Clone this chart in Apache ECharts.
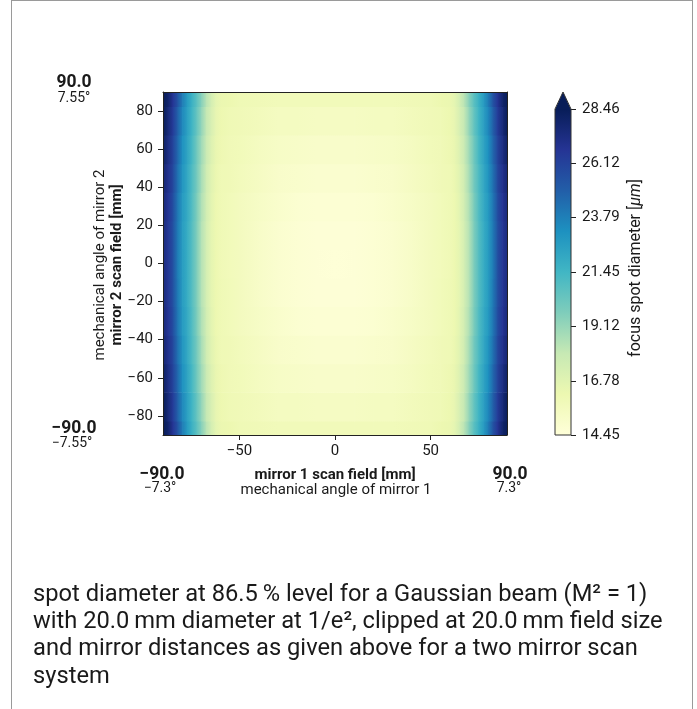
<!DOCTYPE html>
<html>
<head>
<meta charset="utf-8">
<script src="https://cdn.jsdelivr.net/npm/echarts@6/dist/echarts.min.js"></script>
<style>
html,body{margin:0;padding:0;background:#fff;}
#frame{position:absolute;left:11px;top:0;width:682px;height:720px;border:1px solid #9a9a9a;border-bottom:none;box-sizing:border-box;}
#main{position:absolute;left:0;top:0;width:697px;height:709px;}
</style>
</head>
<body>
<div id="frame"></div>
<div id="main"></div>
<script>
// mirror 1 scan field positions [mm] (columns)
const xs = [-90,-87.5,-85,-82.5,-80,-77.5,-75,-72.5,-70,-67.5,-65,-62.5,-60,-55,-50,-40,-30,-20,-10,0,10,20,30,40,50,55,60,62.5,65,67.5,70,72.5,75,77.5,80,82.5,85,87.5,90];
// mirror 2 scan field positions [mm] (rows)
const ys = [-90,-75,-60,-45,-30,-15,0,15,30,45,60,75,90];

// focus spot diameter [µm], one row per y position
const row_m90 = [29.0,27.9,26.7,25.4,23.9,22.7,21.7,20.7,19.5,18.3,17.4,16.6,16.3,16.2,16.0,15.9,15.8,15.8,15.8,15.8,15.8,15.8,15.8,15.9,16.0,16.2,16.3,16.6,17.4,18.3,19.5,20.7,21.7,22.7,23.9,25.4,26.7,27.9,29.0];
const row_m75 = [28.5,27.5,26.4,24.9,23.5,22.5,21.5,20.4,19.2,18.0,17.2,16.5,16.2,16.0,15.9,15.7,15.5,15.5,15.4,15.4,15.4,15.5,15.5,15.7,15.9,16.0,16.2,16.5,17.2,18.0,19.2,20.4,21.5,22.5,23.5,24.9,26.4,27.5,28.5];
const row_m60 = [28.1,27.2,26.1,24.6,23.2,22.3,21.3,20.1,18.9,17.8,17.0,16.4,16.1,15.9,15.8,15.5,15.3,15.2,15.1,15.1,15.1,15.2,15.3,15.5,15.8,15.9,16.1,16.4,17.0,17.8,18.9,20.1,21.3,22.3,23.2,24.6,26.1,27.2,28.1];
const row_m45 = [27.7,26.9,25.9,24.3,23.0,22.1,21.1,20.0,18.7,17.6,16.8,16.3,16.0,15.9,15.7,15.4,15.1,15.0,14.9,14.9,14.9,15.0,15.1,15.4,15.7,15.9,16.0,16.3,16.8,17.6,18.7,20.0,21.1,22.1,23.0,24.3,25.9,26.9,27.7];
const row_m30 = [27.5,26.7,25.7,24.1,22.8,22.0,21.0,19.8,18.5,17.5,16.7,16.2,16.0,15.8,15.6,15.3,15.0,14.8,14.7,14.7,14.7,14.8,15.0,15.3,15.6,15.8,16.0,16.2,16.7,17.5,18.5,19.8,21.0,22.0,22.8,24.1,25.7,26.7,27.5];
const row_m15 = [27.4,26.6,25.6,24.0,22.7,21.9,20.9,19.7,18.4,17.4,16.6,16.2,16.0,15.8,15.6,15.2,14.9,14.7,14.6,14.6,14.6,14.7,14.9,15.2,15.6,15.8,16.0,16.2,16.6,17.4,18.4,19.7,20.9,21.9,22.7,24.0,25.6,26.6,27.4];
const row_0   = [27.3,26.6,25.6,23.9,22.7,21.9,20.9,19.7,18.4,17.4,16.6,16.2,15.95,15.75,15.6,15.2,14.9,14.7,14.6,14.55,14.6,14.7,14.9,15.2,15.6,15.75,15.95,16.2,16.6,17.4,18.4,19.7,20.9,21.9,22.7,23.9,25.6,26.6,27.3];
const row_p15 = [27.4,26.6,25.6,24.0,22.7,21.9,20.9,19.7,18.4,17.4,16.6,16.2,16.0,15.8,15.6,15.2,14.9,14.7,14.6,14.6,14.6,14.7,14.9,15.2,15.6,15.8,16.0,16.2,16.6,17.4,18.4,19.7,20.9,21.9,22.7,24.0,25.6,26.6,27.4];
const row_p30 = [27.5,26.7,25.7,24.1,22.8,22.0,21.0,19.8,18.5,17.5,16.7,16.2,16.0,15.8,15.6,15.3,15.0,14.8,14.7,14.7,14.7,14.8,15.0,15.3,15.6,15.8,16.0,16.2,16.7,17.5,18.5,19.8,21.0,22.0,22.8,24.1,25.7,26.7,27.5];
const row_p45 = [27.7,26.9,25.9,24.3,23.0,22.1,21.1,20.0,18.7,17.6,16.8,16.3,16.0,15.9,15.7,15.4,15.1,15.0,14.9,14.9,14.9,15.0,15.1,15.4,15.7,15.9,16.0,16.3,16.8,17.6,18.7,20.0,21.1,22.1,23.0,24.3,25.9,26.9,27.7];
const row_p60 = [28.1,27.2,26.1,24.6,23.2,22.3,21.3,20.1,18.9,17.8,17.0,16.4,16.1,15.9,15.8,15.5,15.3,15.2,15.1,15.1,15.1,15.2,15.3,15.5,15.8,15.9,16.1,16.4,17.0,17.8,18.9,20.1,21.3,22.3,23.2,24.6,26.1,27.2,28.1];
const row_p75 = [28.5,27.5,26.4,24.9,23.5,22.5,21.5,20.4,19.2,18.0,17.2,16.5,16.2,16.0,15.9,15.7,15.5,15.5,15.4,15.4,15.4,15.5,15.5,15.7,15.9,16.0,16.2,16.5,17.2,18.0,19.2,20.4,21.5,22.5,23.5,24.9,26.4,27.5,28.5];
const row_p90 = [29.0,27.9,26.7,25.4,23.9,22.7,21.7,20.7,19.5,18.3,17.4,16.6,16.3,16.2,16.0,15.9,15.8,15.8,15.8,15.8,15.8,15.8,15.8,15.9,16.0,16.2,16.3,16.6,17.4,18.3,19.5,20.7,21.7,22.7,23.9,25.4,26.7,27.9,29.0];
const spotRows = [row_m90,row_m75,row_m60,row_m45,row_m30,row_m15,row_0,row_p15,row_p30,row_p45,row_p60,row_p75,row_p90];

// tick labels
const xTicks = [-50, 0, 50];
const yTicks = [-80, -60, -40, -20, 0, 20, 40, 60, 80];
const cbMin = 14.45, cbMax = 28.46;
const cbTicks = [14.45, 16.78, 19.12, 21.45, 23.79, 26.12, 28.46];

// YlGnBu colormap
const ylgnbu = ['#ffffd9','#edf8b1','#c7e9b4','#7fcdbb','#41b6c4','#1d91c0','#225ea8','#253494','#081d58'];
function colorOf(v){
  const t = Math.max(0, Math.min(1, (v - cbMin) / (cbMax - cbMin)));
  return echarts.color.lerp(t, ylgnbu);
}

// row band edges (midpoints between sample rows)
const yLo = ys.map((v,i)=> i===0 ? v : (ys[i-1]+v)/2);
const yHi = ys.map((v,i)=> i===ys.length-1 ? v : (v+ys[i+1])/2);

const cells = [];
spotRows.forEach((row,j)=> row.forEach((v,i)=> cells.push([xs[i], ys[j], v, i, j])));

const FONT = 'Roboto';
const TXT = '#1a1a1a';
const minus = v => String(v).replace('-', '\u2212');

// plot layout
const P = {left:163, top:92, width:344, height:343};
const CB = {left:555, top:109, width:16, height:326};

const chart = echarts.init(document.getElementById('main'));
const gradStops = ylgnbu.map((c,i)=>({offset:i/(ylgnbu.length-1), color:c}));

const option = {
  animation: false,
  backgroundColor: 'transparent',
  textStyle: {fontFamily: FONT},
  grid: [
    {left:P.left, top:P.top, width:P.width, height:P.height, containLabel:false},
    {left:CB.left, top:CB.top, width:CB.width, height:CB.height, containLabel:false}
  ],
  xAxis: [
    {type:'value', gridIndex:0, min:-90, max:90, position:'bottom', z:5,
     axisLine:{show:true, onZero:false, lineStyle:{color:'#222', width:1}},
     axisTick:{show:true, length:5, customValues:xTicks, lineStyle:{color:'#222'}},
     axisLabel:{customValues:xTicks, formatter:minus, fontSize:15, color:TXT, margin:9, fontFamily:FONT},
     splitLine:{show:false}},
    {type:'value', gridIndex:0, min:-90, max:90, position:'top', z:5,
     axisLine:{show:true, onZero:false, lineStyle:{color:'#222', width:1}},
     axisTick:{show:false}, axisLabel:{show:false}, splitLine:{show:false}},
    {type:'category', gridIndex:1, data:['cb'], show:false}
  ],
  yAxis: [
    {type:'value', gridIndex:0, min:-90, max:90, position:'left', z:5,
     axisLine:{show:true, onZero:false, lineStyle:{color:'#222', width:1}},
     axisTick:{show:true, length:5, customValues:yTicks, lineStyle:{color:'#222'}},
     axisLabel:{customValues:yTicks, formatter:minus, fontSize:15, color:TXT, margin:10, fontFamily:FONT},
     splitLine:{show:false}},
    {type:'value', gridIndex:0, min:-90, max:90, position:'right', z:5,
     axisLine:{show:true, onZero:false, lineStyle:{color:'#222', width:1}},
     axisTick:{show:false}, axisLabel:{show:false}, splitLine:{show:false}},
    {type:'value', gridIndex:1, min:cbMin, max:cbMax, position:'right', z:5,
     axisLine:{show:false},
     axisTick:{show:true, length:5, customValues:cbTicks, lineStyle:{color:'#222'}},
     axisLabel:{customValues:cbTicks, formatter:v=>v.toFixed(2), fontSize:15, color:TXT, margin:11, fontFamily:FONT},
     splitLine:{show:false}}
  ],
  series: [
    {
      type:'custom', coordinateSystem:'cartesian2d', xAxisIndex:0, yAxisIndex:0,
      clip:true, encode:{x:0, y:1},
      data: cells,
      renderItem: function(params, api){
        const i = api.value(3), j = api.value(4);
        if (i >= xs.length - 1) return null;
        const p1 = api.coord([xs[i], yHi[j]]);
        const p2 = api.coord([xs[i+1], yLo[j]]);
        const c0 = colorOf(api.value(2));
        const c1 = colorOf(spotRows[j][i+1]);
        return {type:'rect',
          shape:{x:p1[0], y:p1[1], width:p2[0]-p1[0]+0.7, height:p2[1]-p1[1]+0.7},
          style:{fill: new echarts.graphic.LinearGradient(0,0,1,0,[{offset:0,color:c0},{offset:1,color:c1}])}};
      }
    },
    {
      type:'bar', xAxisIndex:2, yAxisIndex:2, barWidth:'100%',
      data:[cbMax], silent:true,
      itemStyle:{color: new echarts.graphic.LinearGradient(0,1,0,0, gradStops)}
    }
  ]
};
chart.setOption(option);

// colorbar extension arrow + outline (legend decoration)
const topC = chart.convertToPixel({xAxisIndex:2, yAxisIndex:2}, ['cb', cbMax]);
const botC = chart.convertToPixel({xAxisIndex:2, yAxisIndex:2}, ['cb', cbMin]);
const half = CB.width/2;
const tipY = topC[1] - 17;
const T = (text, x, y, size, bold, extra) => Object.assign({type:'text', x:x, y:y, z:10,
  style:{text:text, fontSize:size, fontWeight:bold?'bold':'normal', fontFamily:FONT, fill:TXT, align:'center', verticalAlign:'middle'}}, extra||{});
const g = [
  {type:'polygon', z:10, shape:{points:[[topC[0]-half, topC[1]+0.5],[topC[0]+half, topC[1]+0.5],[topC[0], tipY]]}, style:{fill:'#081d58'}},
  {type:'polyline', z:11, shape:{points:[[botC[0]-half, botC[1]],[topC[0]-half, topC[1]],[topC[0], tipY],[topC[0]+half, topC[1]],[botC[0]+half, botC[1]],[botC[0]-half, botC[1]]]},
   style:{fill:'none', stroke:'#333', lineWidth:1}},
  // colorbar title
  {type:'text', x:636, y:268, rotation:Math.PI/2, z:10,
   style:{text:'{n|focus spot diameter [}{i|μm}{n|]}', align:'center', verticalAlign:'middle',
     rich:{n:{fontSize:16, fontFamily:FONT, fill:TXT}, i:{fontSize:16, fontFamily:FONT, fontStyle:'italic', fill:TXT}}}},
  // y axis titles
  T('mirror 2 scan field [mm]', 117, 265, 15, true, {rotation:Math.PI/2}),
  T('mechanical angle of mirror 2', 100, 265, 15, false, {rotation:Math.PI/2}),
  // x axis titles
  T('mirror 1 scan field [mm]', 335, 475, 15, true),
  T('mechanical angle of mirror 1', 336, 490, 15, false),
  // corner labels (y)
  T('90.0', 74, 83, 17.5, true),
  T('7.55°', 74, 98, 14, false),
  T('\u221290.0', 74, 429, 17.5, true),
  T('\u22127.55°', 72, 443, 14, false),
  // corner labels (x)
  T('\u221290.0', 162, 475, 17.5, true),
  T('\u22127.3°', 160, 488.5, 14, false),
  T('90.0', 510, 475, 17.5, true),
  T('7.3°', 509, 488.5, 14, false),
  // caption
  {type:'text', x:33, y:581.3, z:10,
   style:{text:'spot diameter at 86.5\u2009% level for a Gaussian beam (M² = 1)\nwith 20.0\u2009mm diameter at 1/e², clipped at 20.0\u2009mm field size\nand mirror distances as given above for a two mirror scan\nsystem',
     fontSize:23.7, lineHeight:27.3, fontFamily:FONT, fill:TXT, align:'left', verticalAlign:'top'}}
];
chart.setOption({graphic: g});
</script>
</body>
</html>
